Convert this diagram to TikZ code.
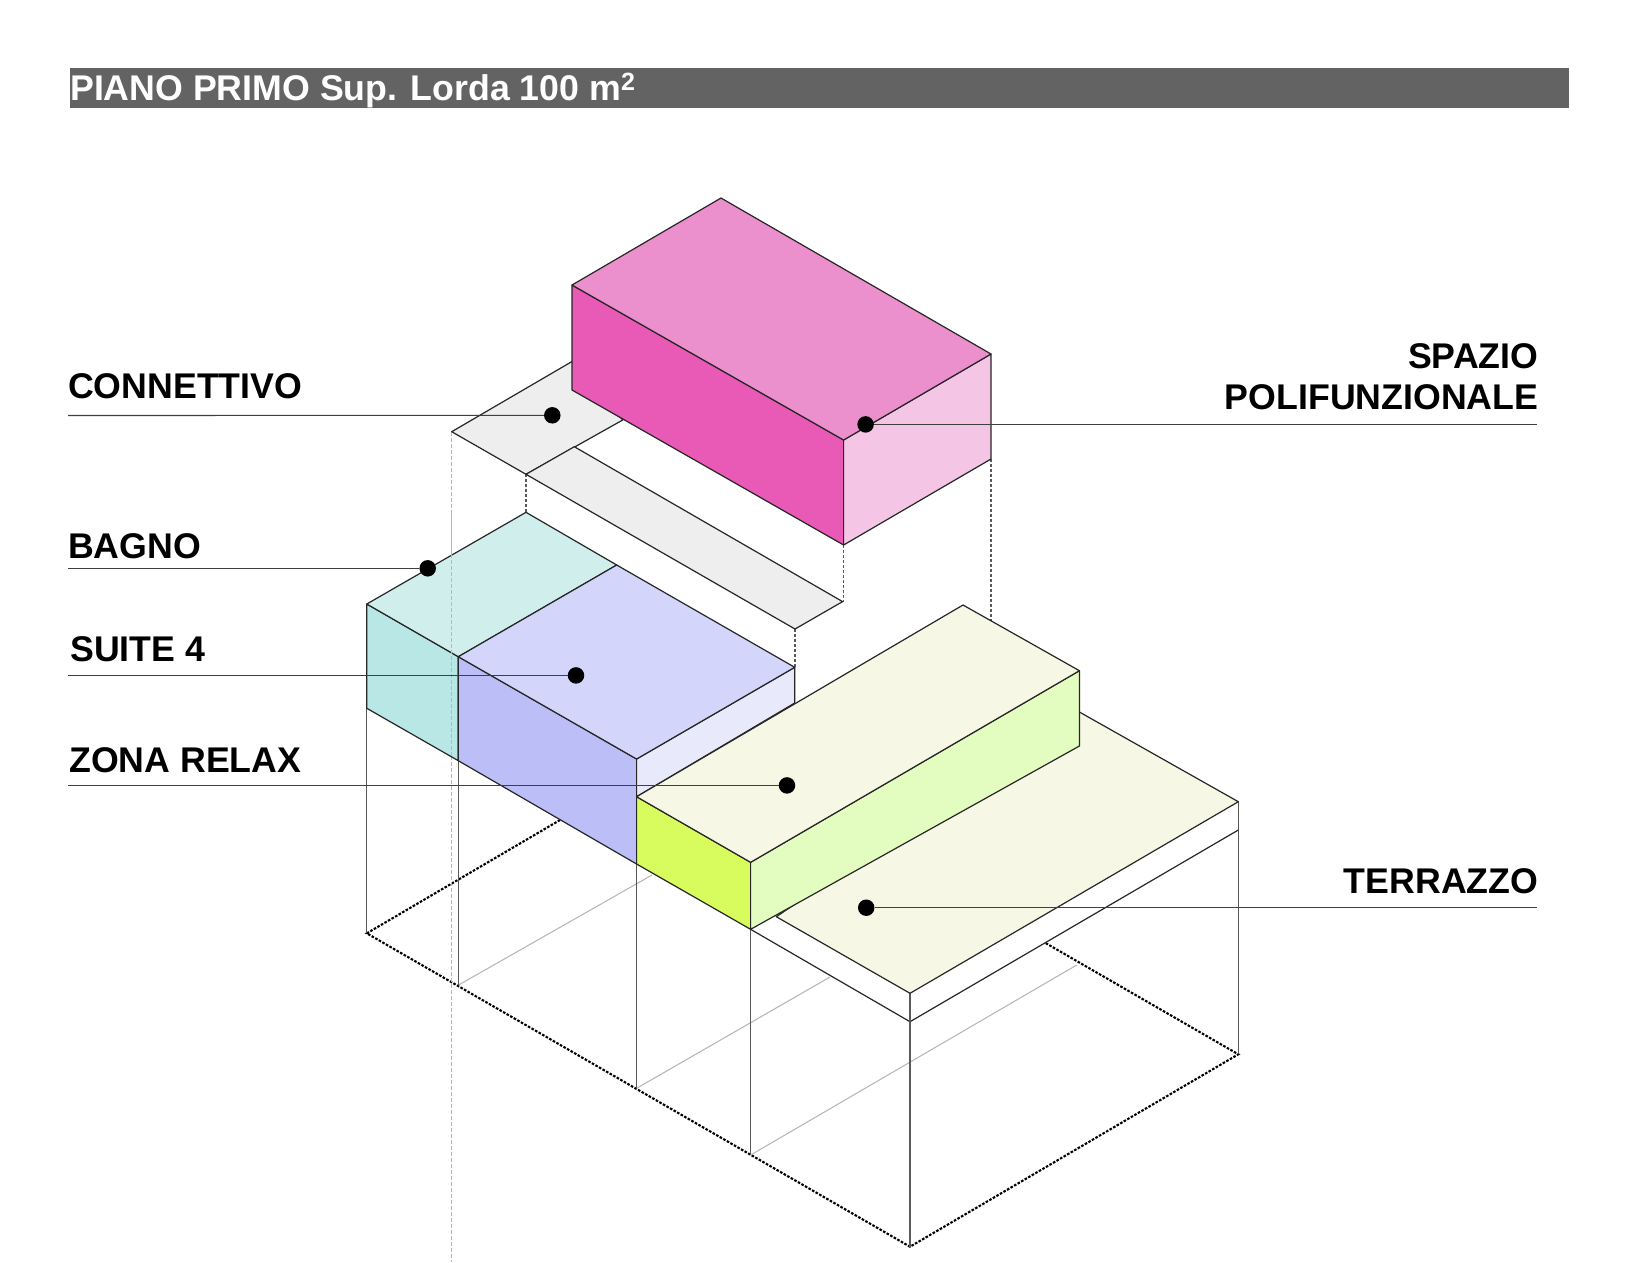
\documentclass[tikz,border=0pt]{standalone}
\usepackage{fontspec}
\setmainfont{Liberation Sans}
\definecolor{barg}{HTML}{636363}
\definecolor{magtop}{HTML}{EC90CD}
\definecolor{magfront}{HTML}{E85AB6}
\definecolor{magside}{HTML}{F4C5E4}
\definecolor{conng}{HTML}{EEEEEE}
\definecolor{tealtop}{HTML}{CFEEEC}
\definecolor{tealside}{HTML}{B9E7E6}
\definecolor{liltop}{HTML}{D3D5FA}
\definecolor{lilfront}{HTML}{BCBEF7}
\definecolor{lilside}{HTML}{E9E9FC}
\definecolor{cream}{HTML}{F7F7E6}
\definecolor{limefront}{HTML}{D8FC5E}
\definecolor{limeside}{HTML}{E3FDC0}
\tikzset{
  edge/.style={draw=black!85, line width=1.2pt, line join=round},
  post/.style={draw=black!65, line width=1.2pt},
  ghost/.style={draw=black!28, line width=1.1pt},
  base/.style={draw=black, line width=2.1pt, dash pattern=on 2.6pt off 1.5pt},
  drop/.style={draw=black!65, line width=1.4pt, dash pattern=on 3pt off 2pt},
  longdrop/.style={draw=black!28, line width=1.3pt, dash pattern=on 4pt off 2pt},
  leader/.style={draw=black!75, line width=1.1pt},
  dot/.style={circle, fill=black, inner sep=0pt, minimum size=16.5pt},
  tag/.style={inner sep=0pt, font=\fontsize{35.7}{41}\selectfont\bfseries}
}
\begin{document}
\begin{tikzpicture}[x=1pt, y=-1pt]
    \useasboundingbox (0,0) rectangle (1643,1262);

    % Title bar
    \fill[barg] (70,68) rectangle (1569,108);
    \node[tag, text=white, anchor=base west] (title) at (70,100) {PIANO PRIMO Sup. Lorda 100 m\textsuperscript{2}};

    % Corners of the lot at ground level
    \coordinate (g1) at (366.8,933.3);
    \coordinate (g2) at (458.6,985);
    \coordinate (g3) at (636.6,1088.3);
    \coordinate (g4) at (750.6,1155);
    \coordinate (g5) at (910,1246.7);
    \coordinate (g6) at (1238.3,1054.3);

    % Ground outline, partly hidden by the volumes
    \draw[base] (560,820) -- (g1) -- (g5) -- (g6) -- (1045,942.7);
    \draw[ghost] (g2) -- (652,875);
    \draw[ghost] (g3) -- (830,977);
    \draw[ghost] (g4) -- (1076.7,965);

    % Long projection line
    \draw[longdrop] (451.7,431.7) -- (451.7,1262);

    % Posts
    \draw[post] (366.8,708.3) -- (g1);
    \draw[post] (458.6,760.7) -- (g2);
    \draw[post] (636.6,864) -- (g3);
    \draw[post] (750.6,929.3) -- (g4);
    \draw[post] (910,993.3) -- (g5);
    \draw[post] (1238.3,801.7) -- (g6);

    % Projection lines between the floors
    \draw[drop] (526,474.3) -- (526,512.3);
    \draw[drop] (795,629) -- (795,667.3);
    \draw[drop] (843.6,545) -- (843.6,601.6);
    \draw[drop] (991,459) -- (991,620.8);

    % Connettivo
    \draw[edge, fill=conng] (451.7,431.7) -- (572,361.5) -- (622.7,420) -- (526,474.3) -- cycle;
    \draw[edge, fill=conng] (574.3,446.7) -- (526,474.3) -- (795,629) -- (842.6,601.6) -- cycle;

    % Spazio polifunzionale
    \draw[edge, fill=magfront] (572,285) -- (843.6,440) -- (843.6,545) -- (572,390) -- cycle;
    \draw[edge, fill=magside] (843.6,440) -- (991,354) -- (991,459) -- (843.6,545) -- cycle;
    \draw[edge, fill=magtop] (572,285) -- (721,198) -- (991,354) -- (843.6,440) -- cycle;

    % Bagno
    \draw[edge, fill=tealside] (366.8,604) -- (458.3,656.7) -- (458.3,760.7) -- (366.8,708.3) -- cycle;
    \draw[edge, fill=tealtop] (366.8,604) -- (526,512.3) -- (616.7,565) -- (458.3,656.7) -- cycle;
    \draw[longdrop] (451.7,512) -- (451.7,760);

    % Suite
    \draw[edge, fill=lilfront] (458.3,656.7) -- (636.6,759) -- (636.6,864) -- (458.3,760.7) -- cycle;
    \draw[edge, fill=lilside] (636.6,759) -- (794.7,667.3) -- (794.7,703) -- (636.6,796.7) -- cycle;
    \draw[edge, fill=liltop] (458.3,656.7) -- (616.7,565) -- (794.7,667.3) -- (636.6,759) -- cycle;

    % Terrazzo
    \draw[edge] (750.6,929.3) -- (910,1021.7) -- (1238.3,830);
    \draw[post] (910,993.3) -- (910,1021.7);
    \draw[edge, fill=cream] (776.3,916.7) -- (910,993.3) -- (1238.3,801.7) -- (1079.4,712) -- cycle;

    % Zona relax
    \draw[edge, fill=limefront] (636.6,796.7) -- (750.6,862.3) -- (750.6,929.3) -- (636.6,864) -- cycle;
    \draw[edge, fill=limeside] (750.6,862.3) -- (1079.4,670.7) -- (1079.4,746) -- (750.6,929.3) -- cycle;
    \draw[edge, fill=cream] (636.6,796.7) -- (963,605) -- (1079.4,670.7) -- (750.6,862.3) -- cycle;

    % Labels with their leaders
    \node[tag, anchor=base west] (connettivo) at (68,398) {CONNETTIVO};
    \coordinate (connettivoL) at (68,415.5);
    \node[dot] (connettivoD) at (552.3,415.3) {};
    \draw[leader] (connettivoL) -- (connettivoD);

    \node[tag, anchor=base west] (bagno) at (68,558.5) {BAGNO};
    \coordinate (bagnoL) at (68,568.3);
    \node[dot] (bagnoD) at (427.7,568.3) {};
    \draw[leader] (bagnoL) -- (bagnoD);

    \node[tag, anchor=base west] (suite) at (70,661) {SUITE 4};
    \coordinate (suiteL) at (68,675.4);
    \node[dot] (suiteD) at (576,675.4) {};
    \draw[leader] (suiteL) -- (suiteD);

    \node[tag, anchor=base west] (relax) at (69,772.5) {ZONA RELAX};
    \coordinate (relaxL) at (68,785.4);
    \node[dot] (relaxD) at (787,785.4) {};
    \draw[leader] (relaxL) -- (relaxD);

    \node[tag, anchor=base east] (terrazzo) at (1538.5,893) {TERRAZZO};
    \coordinate (terrazzoR) at (1537,907.7);
    \node[dot] (terrazzoD) at (866.2,907.7) {};
    \draw[leader] (terrazzoR) -- (terrazzoD);

    \node[tag, anchor=base east, align=right] (spazio) at (1538.5,409) {SPAZIO\\POLIFUNZIONALE};
    \coordinate (spazioR) at (1537,424.4);
    \node[dot] (spazioD) at (865.6,424.4) {};
    \draw[leader] (spazioR) -- (spazioD);
\end{tikzpicture}
\end{document}
